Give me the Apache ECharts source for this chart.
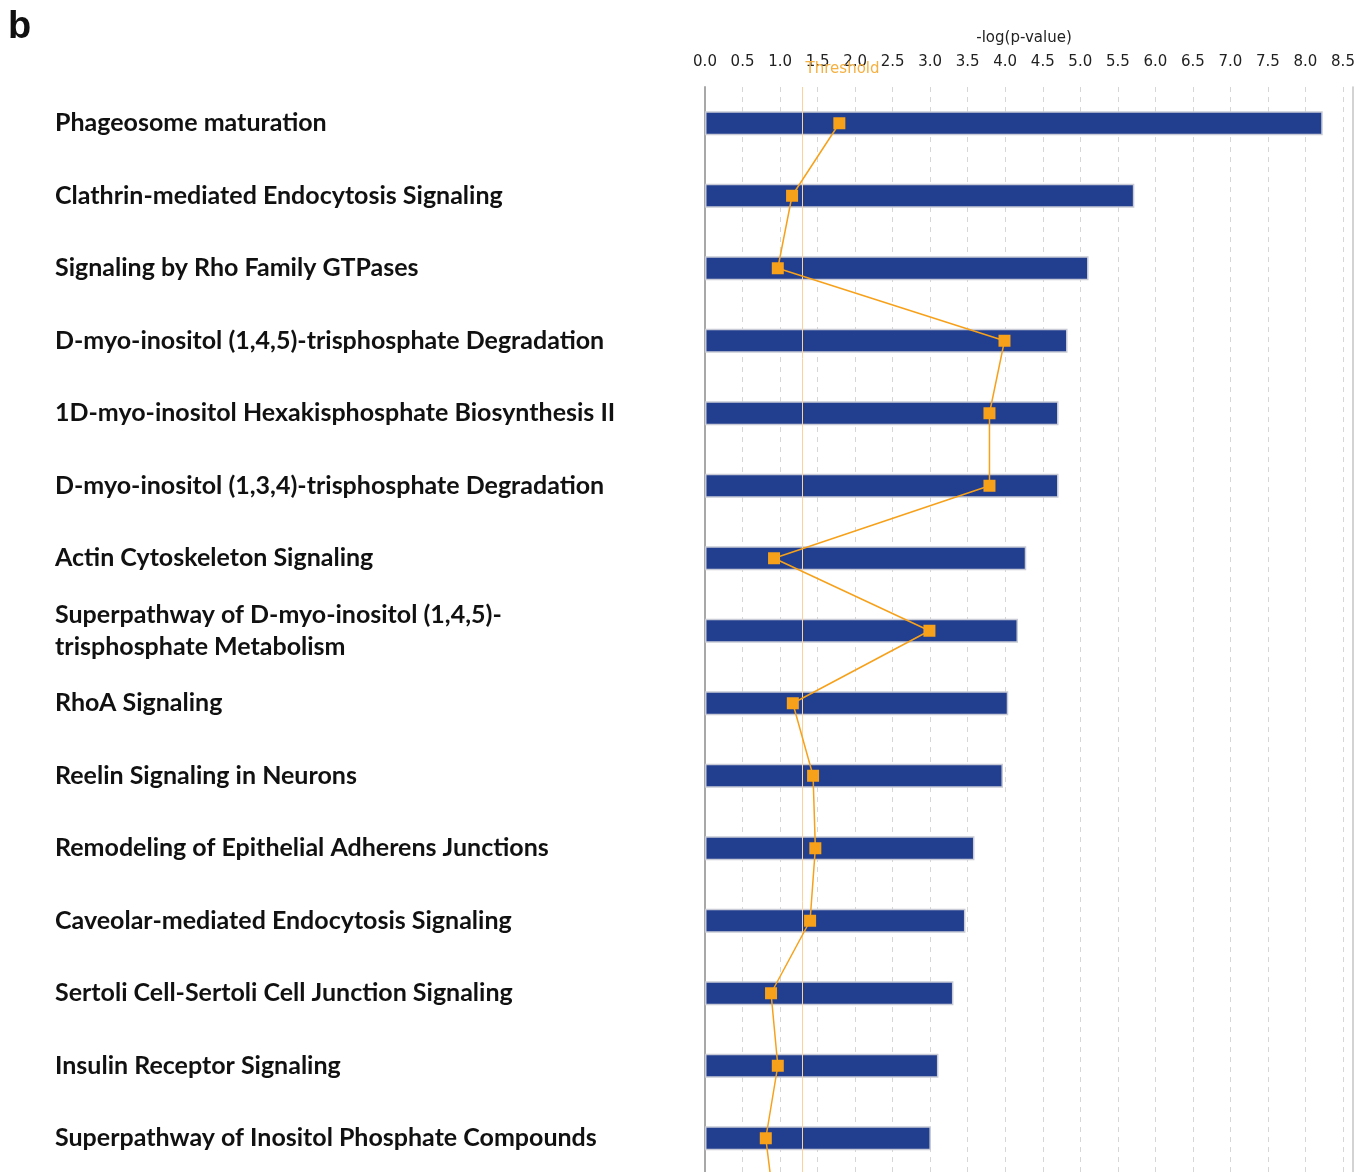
<!DOCTYPE html>
<html>
<head>
<meta charset="utf-8">
<title>Canonical pathways</title>
<script src="https://cdn.jsdelivr.net/npm/echarts@6/dist/echarts.min.js"></script>
<style>
  html, body { margin: 0; padding: 0; background: #fff; }
  #chart { width: 1367px; height: 1172px; }
</style>
</head>
<body>
<div id="chart"></div>
<script>
// pathway names, top to bottom (last one is cut off below the picture)
var pathways = [
  "Phageosome maturation",
  "Clathrin-mediated Endocytosis Signaling",
  "Signaling by Rho Family GTPases",
  "D-myo-inositol (1,4,5)-trisphosphate Degradation",
  "1D-myo-inositol Hexakisphosphate Biosynthesis II",
  "D-myo-inositol (1,3,4)-trisphosphate Degradation",
  "Actin Cytoskeleton Signaling",
  "Superpathway of D-myo-inositol (1,4,5)-\ntrisphosphate Metabolism",
  "RhoA Signaling",
  "Reelin Signaling in Neurons",
  "Remodeling of Epithelial Adherens Junctions",
  "Caveolar-mediated Endocytosis Signaling",
  "Sertoli Cell-Sertoli Cell Junction Signaling",
  "Insulin Receptor Signaling",
  "Superpathway of Inositol Phosphate Compounds",
  ""
]
// -log(p-value)
var logP = [8.23, 5.72, 5.11, 4.83, 4.71, 4.71, 4.28, 4.17, 4.04, 3.97, 3.59, 3.47, 3.31, 3.11, 3.01]
var ratio = [1.79, 1.16, 0.97, 3.99, 3.79, 3.79, 0.92, 2.99, 1.17, 1.44, 1.47, 1.40, 0.88, 0.97, 0.81, 0.93]
var threshold = 1.3
var xTicks = { min: 0, max: 8.5, step: 0.5 }

var chart = echarts.init(document.getElementById("chart"))

chart.setOption({
  animation: false,
  title: {
    text: "b",
    left: 3,
    top: 4,
    textStyle: { fontFamily: "Liberation Sans", fontWeight: "bold", fontSize: 38, color: "#111" }
  },
  grid: {
    left: 705,
    right: 24,
    top: 87,
    bottom: -75,
    outerBoundsMode: "none"
  },
  xAxis: {
    type: "value",
    position: "top",
    offset: 10,
    min: xTicks.min,
    max: xTicks.max,
    interval: xTicks.step,
    name: "-log(p-value)",
    nameLocation: "middle",
    nameGap: 31,
    nameTextStyle: { fontFamily: "DejaVu Sans", fontSize: 15, color: "#222" },
    axisLine: { show: true, lineStyle: { color: "#b0b0b0", width: 1.5 } },
    axisTick: { show: true, length: 5, lineStyle: { color: "#b0b0b0" } },
    axisLabel: {
      margin: 7,
      fontFamily: "DejaVu Sans",
      fontSize: 15,
      color: "#222",
      formatter: function (v) { return v.toFixed(1) }
    },
    splitLine: { show: true, lineStyle: { color: "#d6d6d6", type: [5, 5], width: 1 } }
  },
  yAxis: [
    {
      type: "category",
      inverse: true,
      data: pathways,
      axisLine: { show: true, lineStyle: { color: "#a8a8a8", width: 2 } },
      axisTick: { show: false },
      axisLabel: {
        align: "left",
        margin: 650,
        fontFamily: "Lato",
        fontWeight: "bold",
        fontSize: 25,
        lineHeight: 32,
        color: "#111"
      }
    },
    {
      type: "value",
      position: "right",
      offset: 10,
      axisLine: { show: true, lineStyle: { color: "#c4c4c4", width: 1.5 } },
      axisTick: { show: false },
      axisLabel: { show: false },
      splitLine: { show: false }
    }
  ],
  series: [
    {
      name: "-log(p-value)",
      type: "bar",
      barWidth: 24,
      data: logP,
      itemStyle: { color: "#223f8f", borderColor: "#c9ccd6", borderWidth: 1.5 },
      markLine: {
        silent: true,
        symbol: "none",
        lineStyle: { color: "#fbd39a", width: 1, type: "solid" },
        label: {
          show: true,
          position: "start",
          formatter: "Threshold",
          color: "#f5b041",
          fontFamily: "DejaVu Sans",
          fontSize: 15,
          offset: [40, 0],
          distance: 10
        },
        data: [{ xAxis: threshold }]
      },
      z: 2
    },
    {
      name: "Ratio",
      type: "line",
      data: ratio,
      symbol: "rect",
      symbolSize: 12,
      itemStyle: { color: "#f7a11a" },
      lineStyle: { color: "#f7a11a", width: 1.5 },
      z: 5
    }
  ]
})
</script>
</body>
</html>
